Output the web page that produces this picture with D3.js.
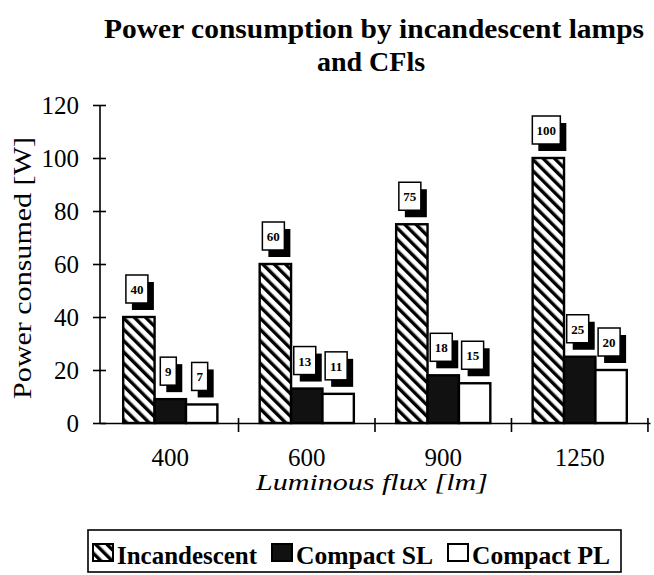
<!DOCTYPE html>
<html>
<head>
<meta charset="utf-8">
<script src="https://cdn.jsdelivr.net/npm/d3@7"></script>
<style>
  body { margin: 0; background: #fff; }
  svg { font-family: "Liberation Serif", "DejaVu Serif", serif; }
</style>
</head>
<body>
<svg id="chart" width="654" height="575"></svg>
<script>
// data
const categories = ['400', '600', '900', '1250'];
const seriesNames = ['Incandescent', 'Compact SL', 'Compact PL'];
const incandescent = [40, 60, 75, 100];
const compactSL = [9, 13, 18, 25];
const compactPL = [7, 11, 15, 20];
const yTicks = [0, 20, 40, 60, 80, 100, 120];

const values = [incandescent, compactSL, compactPL];
const rows = categories.map((c, i) => ({ cat: c, vals: values.map(s => s[i]) }));

const svg = d3.select('#chart');
const margin = { top: 105, right: 4, bottom: 152, left: 100 };
const W = 654, H = 575;
const w = W - margin.left - margin.right;
const h = H - margin.top - margin.bottom;

// hatch pattern for incandescent
const defs = svg.append('defs');
defs.append('pattern')
  .attr('id', 'hatch')
  .attr('patternUnits', 'userSpaceOnUse')
  .attr('width', 8).attr('height', 8)
  .attr('patternTransform', 'rotate(-45)')
  .call(p => {
    p.append('rect').attr('width', 8).attr('height', 8).attr('fill', '#fff');
    p.append('rect').attr('width', 3.4).attr('height', 8).attr('fill', '#000');
  });
const fills = ['url(#hatch)', '#111', '#fff'];

const g = svg.append('g').attr('transform', `translate(${margin.left},${margin.top})`);

// scales
const x0 = d3.scaleBand().domain(categories).range([0, w]).paddingInner(0.31).paddingOuter(0.17);
const x1 = d3.scaleBand().domain(seriesNames).range([0, x0.bandwidth()]).padding(0);
const y = d3.scaleLinear().domain([0, 120]).range([h, 0]);

// bars
const grp = g.selectAll('.grp').data(rows).enter().append('g')
  .attr('transform', d => `translate(${x0(d.cat)},0)`);

grp.selectAll('rect.bar')
  .data(d => d.vals.map((v, i) => ({ v, i })))
  .enter().append('rect')
  .attr('class', 'bar')
  .attr('x', d => x1(seriesNames[d.i]))
  .attr('y', d => y(d.v))
  .attr('width', x1.bandwidth())
  .attr('height', d => h - y(d.v))
  .attr('fill', d => fills[d.i])
  .attr('stroke', '#000')
  .attr('stroke-width', 2.4);

// value labels with drop shadow
const boxW = v => String(v).length * 6 + 10;
const boxH = 28;
const lab = grp.selectAll('g.lab')
  .data(d => d.vals.map((v, i) => ({ v, i })))
  .enter().append('g').attr('class', 'lab')
  .attr('transform', d => {
    const cx = x1(seriesNames[d.i]) + x1.bandwidth() / 2 - 2;
    return `translate(${cx - boxW(d.v) / 2},${y(d.v) - 14 - boxH})`;
  });
lab.append('rect')
  .attr('x', 6).attr('y', 7)
  .attr('width', d => boxW(d.v)).attr('height', boxH)
  .attr('fill', '#000');
lab.append('rect')
  .attr('width', d => boxW(d.v)).attr('height', boxH)
  .attr('fill', '#fff').attr('stroke', '#000').attr('stroke-width', 1.5);
lab.append('text')
  .attr('x', d => boxW(d.v) / 2).attr('y', 19)
  .attr('text-anchor', 'middle')
  .attr('font-size', 13).attr('font-weight', 'bold')
  .text(d => d.v);

// y axis
const yAxis = g.append('g')
  .call(d3.axisLeft(y).tickValues(yTicks).tickSize(7).tickPadding(14));
yAxis.select('.domain').attr('stroke-width', 1.6).attr('d', `M0,${y(120)}V${h}`);
yAxis.selectAll('.tick line').attr('x1', 6).attr('stroke-width', 1.6);
yAxis.selectAll('.tick text').attr('font-size', 25).attr('fill', '#000')
  .attr('font-family', '"Liberation Serif", serif');

// x axis
const xAxis = g.append('g').attr('transform', `translate(0,${h})`)
  .call(d3.axisBottom(x0).tickSize(0).tickPadding(25));
xAxis.select('.domain').attr('stroke-width', 1.6);
xAxis.selectAll('.tick text').attr('font-size', 25).attr('fill', '#000')
  .attr('font-family', '"Liberation Serif", serif');
// boundary ticks between groups
const bounds = categories.map(c => x0(c) + x0.bandwidth() + x0.step() * x0.paddingInner() / 2);
xAxis.selectAll('.btick').data(bounds).enter().append('line')
  .attr('x1', d => d).attr('x2', d => d)
  .attr('y1', -5).attr('y2', 9)
  .attr('stroke', '#000').attr('stroke-width', 1.6);

// axis titles
g.append('text')
  .attr('x', 372 - margin.left).attr('y', 490 - margin.top)
  .attr('text-anchor', 'middle')
  .attr('font-size', 24).attr('font-style', 'italic')
  .attr('textLength', 232).attr('lengthAdjust', 'spacingAndGlyphs')
  .text('Luminous flux [lm]');
svg.append('text')
  .attr('transform', 'translate(31,268) rotate(-90)')
  .attr('text-anchor', 'middle')
  .attr('font-size', 25)
  .attr('textLength', 262).attr('lengthAdjust', 'spacingAndGlyphs')
  .text('Power consumed [W]');

// title
const title = svg.append('text').attr('text-anchor', 'middle')
  .attr('font-size', 28).attr('font-weight', 'bold');
title.append('tspan').attr('x', 374).attr('y', 38)
  .attr('textLength', 540).attr('lengthAdjust', 'spacingAndGlyphs')
  .text('Power consumption by incandescent lamps');
title.append('tspan').attr('x', 371).attr('y', 71).text('and CFls');

// legend
const legend = svg.append('g').attr('transform', 'translate(88,530)');
legend.append('rect').attr('width', 533).attr('height', 42)
  .attr('fill', '#fff').attr('stroke', '#000').attr('stroke-width', 1.6);
const itemX = [5, 184, 360];
const textW = [140, 137, 138];
const li = legend.selectAll('g.item').data(seriesNames).enter().append('g')
  .attr('transform', (d, i) => `translate(${itemX[i]},14)`);
li.append('rect').attr('width', 20).attr('height', 17)
  .attr('fill', (d, i) => fills[i]).attr('stroke', '#000').attr('stroke-width', 2);
li.append('text').attr('x', 24).attr('y', 20)
  .attr('font-size', 25).attr('font-weight', 'bold')
  .attr('textLength', (d, i) => textW[i]).attr('lengthAdjust', 'spacingAndGlyphs')
  .text(d => d);
</script>
</body>
</html>
